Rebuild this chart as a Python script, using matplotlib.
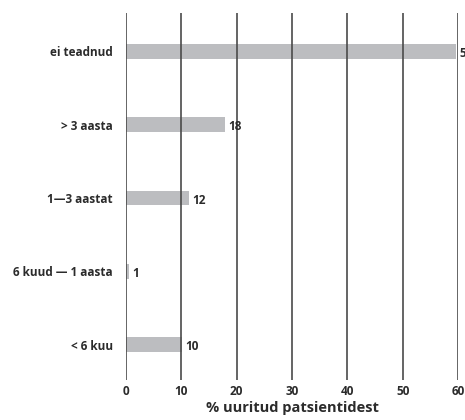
import matplotlib
matplotlib.use("Agg")
import matplotlib.pyplot as plt

categories = ["< 6 kuu", "6 kuud \u2014 1 aasta", "1\u20143 aastat", "> 3 aasta", "ei teadnud"]
values = [10.1, 0.5, 11.4, 17.9, 59.6]
value_labels = ["10", "1", "12", "18", "59"]
xticks = [0, 10, 20, 30, 40, 50, 60]
xlabel = "% uuritud patsientidest"

plt.rcParams['font.family'] = ['Open Sans', 'DejaVu Sans']
txt = "#2b2b2b"

fig = plt.figure(figsize=(4.65, 4.2), dpi=100)
ax = fig.add_axes([126/465, 1-380/420, 332/465, 367/420])

ypos = list(range(len(categories)))
ax.barh(ypos, values, height=0.2, color="#bcbdc0", zorder=1)
for y, v, lab in zip(ypos, values, value_labels):
    ax.annotate(lab, (v, y), xytext=(2.5, -1.5), textcoords="offset points",
                ha="left", va="center", fontsize=8.5, fontweight="bold", color=txt,
                annotation_clip=False)

ax.set_xlim(0, 60)
ax.set_ylim(-0.48, 4.52)
ax.set_xticks(xticks)
ax.set_xticklabels([str(t) for t in xticks])
ax.set_yticks(ypos)
ax.set_yticklabels(categories)
ax.tick_params(axis="both", length=0, labelsize=8.5, labelcolor=txt)
ax.tick_params(axis="y", pad=9.5)
ax.tick_params(axis="x", pad=3.5)
for lab in ax.get_xticklabels() + ax.get_yticklabels():
    lab.set_fontweight("bold")
for s in ax.spines.values():
    s.set_visible(False)
ax.set_axisbelow(False)
ax.grid(axis="x", color="#4a4a4a", linewidth=1.2, zorder=2)
ax.grid(axis="y", visible=False)
ax.set_xlabel(xlabel, fontsize=10.5, fontweight="bold", color=txt, labelpad=2)

fig.savefig("out.png", dpi=100)
